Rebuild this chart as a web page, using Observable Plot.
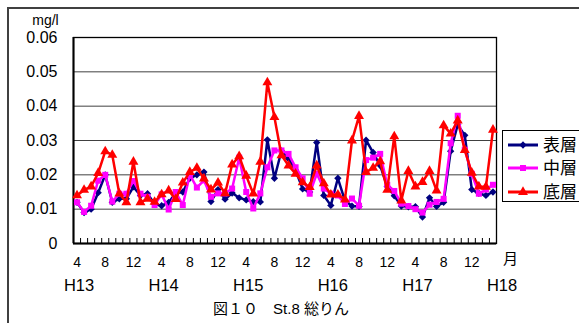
<!DOCTYPE html>
<html><head><meta charset="utf-8">
<script src="https://cdn.jsdelivr.net/npm/d3@7"></script>
<script src="https://cdn.jsdelivr.net/npm/@observablehq/plot@0.6"></script>
<style>
body{margin:0;background:#fff;}
#wrap{position:relative;width:579px;height:323px;overflow:hidden;background:#fff;font-family:"Liberation Sans",Arial,"Noto Sans CJK JP",sans-serif;}
#frame{position:absolute;left:7px;top:7px;width:640px;height:360px;border:2px solid #404040;box-sizing:border-box;pointer-events:none;}
#chart{position:absolute;left:0;top:0;}
#legend{position:absolute;left:502px;top:130px;}
</style></head>
<body>
<div id="wrap"><div id="frame"></div><div id="chart"></div><div id="legend"></div></div>
<script>
// Months: April H13 (index 0) to March H18 (index 59)
const monthNumbers = d3.range(60).map(i => (i + 3) % 12 + 1);
const monthTickLabels = ["4", "8", "12"];
const yearLabels = ["H13", "H14", "H15", "H16", "H17", "H18"];
const seriesNames = ["表層", "中層", "底層"];
const yTicks = [0, 0.01, 0.02, 0.03, 0.04, 0.05, 0.06];

const surface = [0.012,0.009,0.010,0.0148,0.020,0.012,0.013,0.013,0.0165,0.014,0.0145,0.0115,
 0.011,0.012,0.0146,0.015,0.019,0.020,0.0208,0.0122,0.0157,0.0129,0.0147,0.0133,
 0.0127,0.0122,0.0121,0.0302,0.019,0.027,0.0247,0.0213,0.0159,0.015,0.0294,0.014,
 0.0111,0.019,0.0125,0.0109,0.0108,0.0301,0.0265,0.0227,0.0166,0.0139,0.0109,0.0107,
 0.0107,0.0077,0.0133,0.0108,0.012,0.0269,0.0346,0.0315,0.0157,0.0146,0.014,0.015];
const middle = [0.012,0.0092,0.011,0.0183,0.020,0.0122,0.0145,0.0145,0.0182,0.0145,0.0136,0.0112,
 0.0143,0.0099,0.015,0.0112,0.020,0.0163,0.0184,0.0136,0.0146,0.0146,0.016,0.025,
 0.015,0.0102,0.0146,0.0222,0.0271,0.0271,0.0261,0.0222,0.019,0.0145,0.0203,0.016,
 0.0145,0.014,0.0115,0.0131,0.011,0.0243,0.025,0.0261,0.0171,0.0153,0.0116,0.0109,
 0.010,0.009,0.0113,0.0121,0.013,0.0292,0.0372,0.0273,0.0203,0.0145,0.0157,0.0171];
const bottom = [0.014,0.0156,0.0166,0.0205,0.0268,0.0258,0.0145,0.012,0.0238,0.012,0.013,0.0121,
 0.0143,0.0154,0.0129,0.0177,0.0208,0.022,0.0189,0.0157,0.0177,0.0146,0.023,0.0254,
 0.0197,0.0145,0.0238,0.0469,0.0368,0.0257,0.0227,0.0203,0.0178,0.0164,0.0227,0.0175,
 0.0142,0.0142,0.0128,0.030,0.0371,0.0208,0.022,0.0239,0.0156,0.0312,0.0125,0.0211,
 0.0166,0.0179,0.0211,0.0154,0.0344,0.032,0.0358,0.0272,0.0206,0.0166,0.0165,0.0331];

const series = [
  {name: seriesNames[0], values: surface, color: "#000080", symbol: "diamond2", r: 3.3},
  {name: seriesNames[1], values: middle,  color: "#ff00ff", symbol: "square",   r: 3.4},
  {name: seriesNames[2], values: bottom,  color: "#ff0000", symbol: "triangle", r: 3.7}
];

const idx = d3.range(monthNumbers.length);
const boundaries = d3.range(monthNumbers.length + 1).map(i => i - 0.5);
const monthTicks = idx.filter(i => monthTickLabels.includes(String(monthNumbers[i])));
const yearTicks = yearLabels.map((t, k) => ({x: k * 12, t}));

const marks = [
  Plot.gridY(yTicks, {stroke: "#000", strokeOpacity: 0.75}),
  Plot.frame({stroke: "#000", strokeWidth: 1.3}),
  Plot.ruleY([0], {stroke: "#000", strokeWidth: 2}),
  Plot.ruleX([boundaries[0]], {stroke: "#000", strokeWidth: 2}),
  Plot.axisY({ticks: yTicks, tickSize: 0, tickPadding: 16, fontSize: 16, tickFormat: d => d === 0 ? "0" : d.toFixed(2), label: null}),
  Plot.ruleX(boundaries, {x: d => d, y1: 0, y2: 0, insetTop: -5, stroke: "#000"}),
  Plot.text(monthTicks, {x: d => d, text: d => String(monthNumbers[d]), frameAnchor: "bottom", dy: 23, fontSize: 14, fill: "#000"}),
  Plot.text(yearTicks, {x: "x", text: "t", frameAnchor: "bottom", dx: 2, dy: 47, fontSize: 16.5, fill: "#000"}),
  Plot.text(["月"], {frameAnchor: "bottom-right", textAnchor: "middle", dx: 14, dy: 20, fontSize: 15, fill: "#000"}),
  Plot.text(["mg/l"], {frameAnchor: "top-left", textAnchor: "middle", dx: -28, dy: -22, fontSize: 14, fill: "#000", letterSpacing: "1.5px"}),
  Plot.text(["図１０　St.8 総りん"], {frameAnchor: "bottom", textAnchor: "middle", dx: -4, dy: 70, fontSize: 15, fill: "#000"})
];
for (const s of series) {
  marks.push(Plot.line(idx, {x: i => i, y: i => s.values[i], stroke: s.color, strokeWidth: 2.5}));
  marks.push(Plot.dot(idx, {x: i => i, y: i => s.values[i], symbol: s.symbol, r: s.r, fill: s.color, stroke: "none"}));
}

const chart = Plot.plot({
  width: 579, height: 323,
  marginLeft: 73, marginRight: 83, marginTop: 37, marginBottom: 80,
  style: {fontFamily: '"Liberation Sans", Arial, "Noto Sans CJK JP", sans-serif', fontSize: "14px", color: "#000", background: "transparent", overflow: "visible"},
  x: {type: "linear", domain: [boundaries[0], boundaries[boundaries.length - 1]], axis: null},
  y: {domain: [yTicks[0], yTicks[yTicks.length - 1]], axis: null},
  marks
});
document.getElementById("chart").appendChild(chart);

// Legend
const lg = d3.select("#legend").append("svg").attr("width", 80).attr("height", 72);
lg.append("rect").attr("x", 0.5).attr("y", 0.5).attr("width", 100).attr("height", 71).attr("fill", "#fff").attr("stroke", "#000");
series.forEach((s, k) => {
  const cy = [15, 38, 62][k];
  lg.append("line").attr("x1", 6).attr("x2", 36).attr("y1", cy).attr("y2", cy).attr("stroke", s.color).attr("stroke-width", 3);
  const sym = {diamond2: d3.symbolDiamond2, square: d3.symbolSquare, triangle: d3.symbolTriangle}[s.symbol];
  lg.append("path").attr("d", d3.symbol(sym, Math.PI * s.r * s.r)()).attr("transform", `translate(21,${cy})`).attr("fill", s.color);
  lg.append("text").attr("x", 41).attr("y", cy).attr("dy", "0.35em").attr("font-size", 17)
    .attr("font-family", '"Noto Sans CJK JP", sans-serif').text(s.name);
});
</script>
</body></html>
